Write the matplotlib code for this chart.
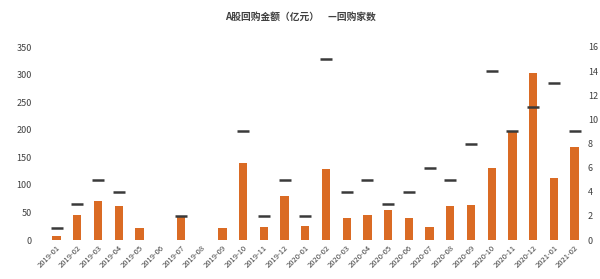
import numpy as np
import matplotlib
matplotlib.use("Agg")
import matplotlib.pyplot as plt

plt.rcParams['font.family'] = ['Noto Sans CJK SC', 'DejaVu Sans']

categories = ["2019-01", "2019-02", "2019-03", "2019-04", "2019-05", "2019-06",
              "2019-07", "2019-08", "2019-09", "2019-10", "2019-11", "2019-12",
              "2020-01", "2020-02", "2020-03", "2020-04", "2020-05", "2020-06",
              "2020-07", "2020-08", "2020-09", "2020-10", "2020-11", "2020-12",
              "2021-01", "2021-02"]
amount = [8, 46, 70, 61, 21, 0, 43, 0, 21, 140, 24, 79, 25, 128, 40, 46, 55,
          40, 24, 61, 64, 131, 198, 302, 113, 168]
count = [1, 3, 5, 4, np.nan, np.nan, 2, np.nan, np.nan, 9, 2, 5, 2, 15, 4, 5, 3,
         4, 6, 5, 8, 14, 9, 11, 13, 9]

bar_color = '#DA6B24'
text_color = '#404040'

fig = plt.figure(figsize=(6.0, 2.79), dpi=100)
ax = fig.add_axes([40/600, 1-240/279, (585-40)/600, (240-47)/279])
x = np.arange(len(categories))
ax.bar(x, amount, width=0.4, color=bar_color, zorder=2)
ax.set_ylim(0, 350)
ax.set_yticks(np.arange(0, 351, 50))
ax.set_xlim(-0.8, len(categories) - 0.5)
ax.set_xticks(x)
ax.set_xticklabels(categories, rotation=45, ha='right', rotation_mode='anchor',
                   fontsize=5.5, color=text_color)
ax.tick_params(axis='y', labelsize=6.5, colors=text_color, length=0, pad=6)
ax.tick_params(axis='x', length=0, pad=3)
for s in ax.spines.values():
    s.set_visible(False)

ax2 = ax.twinx()
ax2.plot(x, count, linestyle='none', marker='_', markersize=9,
         markeredgewidth=1.8, color='#3a3a3a', zorder=3)
ax2.set_ylim(0, 16)
ax2.set_yticks(np.arange(0, 17, 2))
ax2.tick_params(axis='y', labelsize=6.5, colors=text_color, length=0, pad=2)
for s in ax2.spines.values():
    s.set_visible(False)

fig.text(0.5, 1-17/279, "A股回购金额（亿元）    —回购家数", ha='center', va='center',
         fontsize=7, fontweight='bold', color=text_color)

fig.savefig("out.png", dpi=100)
